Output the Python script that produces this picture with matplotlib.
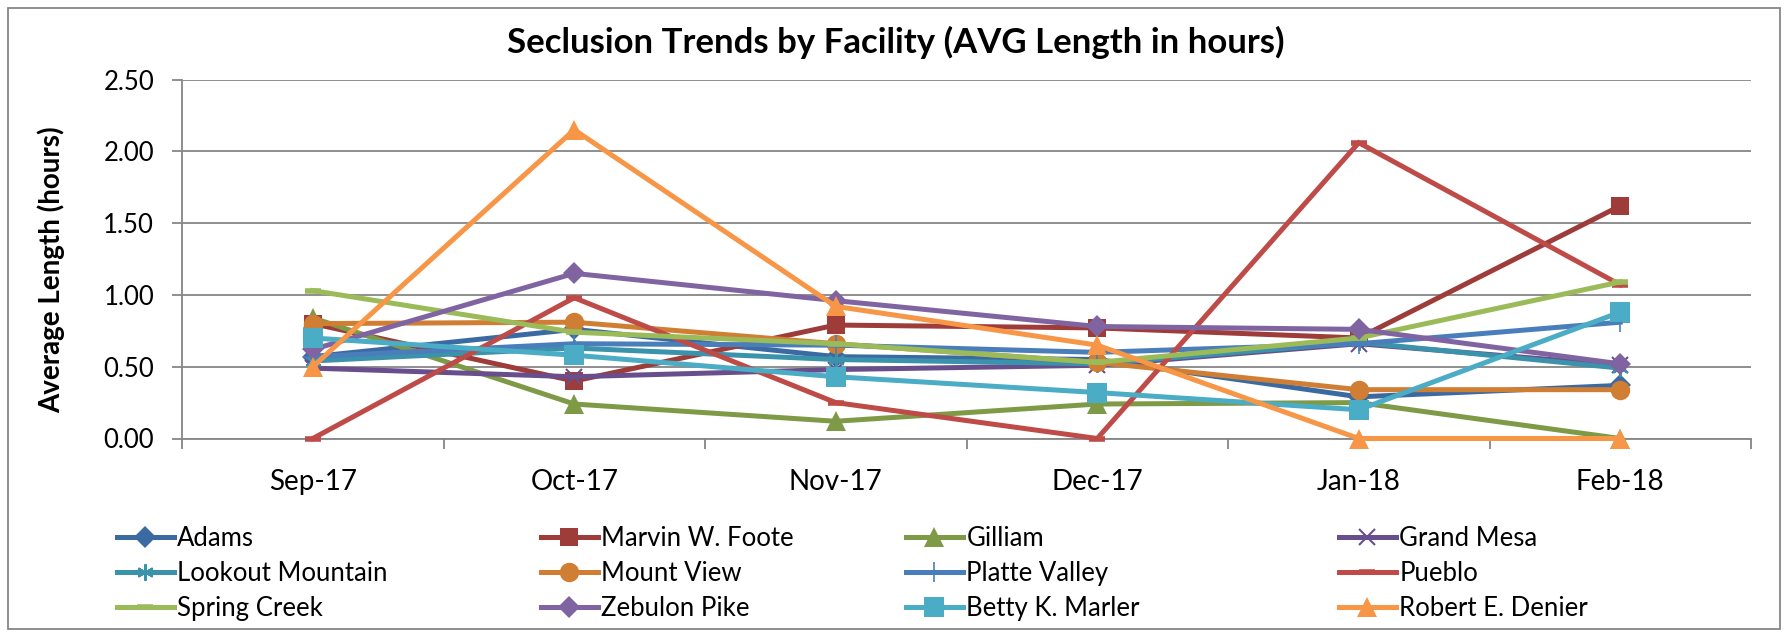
## Seclusion trends chart
import numpy as np
import matplotlib.pyplot as plt
from matplotlib.patches import Rectangle

plt.rcParams['font.family'] = ['Lato', 'DejaVu Sans']

#data
months = ["Sep-17", "Oct-17", "Nov-17", "Dec-17", "Jan-18", "Feb-18"]

adams = [0.57, 0.76, 0.57, 0.55, 0.29, 0.37]
marvin_w_foote = [0.80, 0.40, 0.79, 0.77, 0.70, 1.62]
gilliam = [0.84, 0.24, 0.12, 0.24, 0.25, 0.00]
grand_mesa = [0.49, 0.43, 0.48, 0.51, 0.66, 0.51]
lookout_mountain = [0.54, 0.63, 0.55, 0.52, 0.67, 0.49]
mount_view = [0.80, 0.81, 0.66, 0.53, 0.34, 0.34]
platte_valley = [0.57, 0.66, 0.65, 0.60, 0.66, 0.81]
pueblo = [0.00, 0.98, 0.25, 0.00, 2.06, 1.07]
spring_creek = [1.03, 0.74, 0.66, 0.53, 0.70, 1.09]
zebulon_pike = [0.62, 1.15, 0.96, 0.78, 0.76, 0.52]
betty_k_marler = [0.70, 0.58, 0.43, 0.32, 0.20, 0.88]
robert_e_denier = [0.50, 2.15, 0.92, 0.65, 0.00, 0.00]

facilities = ["Adams", "Marvin W. Foote", "Gilliam", "Grand Mesa",
              "Lookout Mountain", "Mount View", "Platte Valley", "Pueblo",
              "Spring Creek", "Zebulon Pike", "Betty K. Marler", "Robert E. Denier"]
values = [adams, marvin_w_foote, gilliam, grand_mesa,
          lookout_mountain, mount_view, platte_valley, pueblo,
          spring_creek, zebulon_pike, betty_k_marler, robert_e_denier]

#style per series (colour, marker, marker edge width)
colors = ["#3B6AA3", "#9E3C39", "#7E9A47", "#684E8C",
          "#3A93AB", "#D07E34", "#4A7EBB", "#BE4B48",
          "#9BBB59", "#8064A2", "#4BACC6", "#F79646"]
markers = ["D", "s", "^", "x", (6, 2, 0), "o", "+", "_", "_", "D", "s", "^"]
marker_sizes = [11, 13, 14, 12, 12, 14, 14, 12, 12, 11, 14, 15]
edge_widths = [0, 0, 0, 1.5, 1.5, 0, 1.2, 4, 4, 0, 0, 0]

W, H = 1787, 635
fig = plt.figure(figsize=(W / 100, H / 100), dpi=100)
ax = fig.add_axes([182 / W, 1 - 438.5 / H, (1751 - 182) / W, (438.5 - 79.5) / H])

x = np.arange(len(months))
handles = []
for i, name in enumerate(facilities):
    mec = colors[i] if edge_widths[i] > 0 else "none"
    h, = ax.plot(x, values[i], color=colors[i], lw=3.6, marker=markers[i],
                 markersize=marker_sizes[i], markerfacecolor=colors[i],
                 markeredgecolor=mec, markeredgewidth=edge_widths[i],
                 label=name, zorder=3 + i, clip_on=False,
                 solid_joinstyle="miter")
    handles.append(h)

#axes
grid_color = "#868686"
ax.set_xlim(-0.5, len(months) - 0.5)
ax.set_ylim(0, 2.5)
ax.set_yticks(np.arange(0, 2.51, 0.5))
ax.set_yticklabels([f"{v:.2f}" for v in np.arange(0, 2.51, 0.5)])
ax.set_xticks(x)
ax.set_xticklabels(months)
ax.set_xticks(np.arange(-0.5, len(months), 1), minor=True)
ax.yaxis.grid(True, color=grid_color, lw=1.3)
ax.set_axisbelow(True)
for s in ["top", "right"]:
    ax.spines[s].set_visible(False)
for s in ["left", "bottom"]:
    ax.spines[s].set_color(grid_color)
    ax.spines[s].set_linewidth(1.3)
ax.tick_params(axis="y", direction="out", length=7, width=1.3, color=grid_color,
               labelsize=18.5, pad=13)
ax.tick_params(axis="x", which="major", length=0, labelsize=20, pad=22)
ax.tick_params(axis="x", which="minor", direction="out", length=7, width=1.3,
               color=grid_color)

fig.text(0.501, 1 - 42 / H, "Seclusion Trends by Facility (AVG Length in hours)",
         ha="center", va="center", fontsize=25, fontweight="bold")
fig.text(51 / W, 1 - 270 / H, "Average Length (hours)", rotation=90,
         ha="center", va="center", fontsize=20, fontweight="bold")

#legend in four columns, placed like the excel one
col_x = [117, 541, 906, 1339]
for c in range(4):
    idx = [c, c + 4, c + 8]
    leg = fig.legend([handles[k] for k in idx], [facilities[k] for k in idx],
                     loc="upper left", bbox_to_anchor=(col_x[c] / W, 1 - 526 / H),
                     frameon=False, fontsize=18.5, handlelength=2.2,
                     handletextpad=0.15, labelspacing=0.38, borderpad=0,
                     borderaxespad=0)

#outer chart border
fig.patches.append(Rectangle((8 / W, 1 - 629 / H), (1780 - 8) / W, (629 - 8) / H,
                             transform=fig.transFigure, fill=False,
                             edgecolor=grid_color, lw=1.3))

plt.savefig("out.png", dpi=100)
